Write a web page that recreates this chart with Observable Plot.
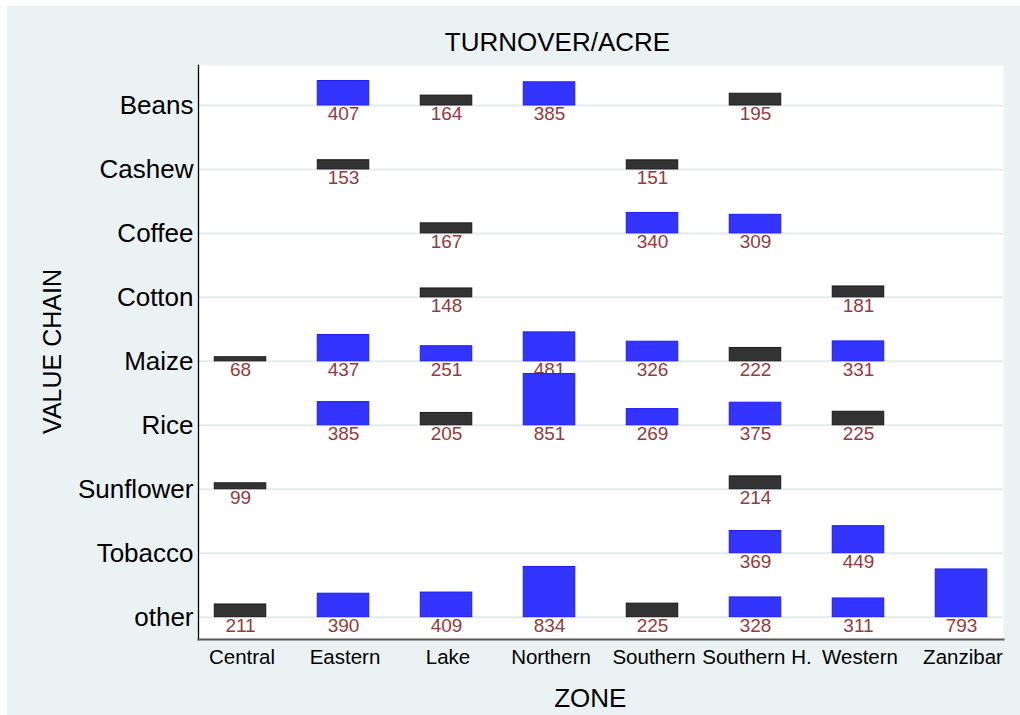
<!DOCTYPE html>
<html>
<head>
<meta charset="utf-8">
<script src="https://cdn.jsdelivr.net/npm/d3@7"></script>
<script src="https://cdn.jsdelivr.net/npm/@observablehq/plot@0.6"></script>
<style>
  html, body { margin: 0; padding: 0; background: #ffffff; }
  #wrap { position: absolute; left: 7px; top: 6px; width: 1013px; height: 709px; background: #EAF2F3; overflow: hidden; }
  #title { box-sizing: border-box; width: 1013px; height: 55px; padding-top: 23px; padding-left: 88px; text-align: center;
           font-family: "Liberation Sans", Arial, Helvetica, sans-serif; font-size: 26px; line-height: 26px; color: #000; }
  #chart svg { display: block; }
</style>
</head>
<body>
<div id="wrap">
  <div id="title">TURNOVER/ACRE</div>
  <div id="chart"></div>
</div>
<script>
// Categories
const chains = ["Beans", "Cashew", "Coffee", "Cotton", "Maize", "Rice", "Sunflower", "Tobacco", "other"];
const zones = ["Central", "Eastern", "Lake", "Northern", "Southern", "Southern H.", "Western", "Zanzibar"];

// Turnover per acre, one array per value chain, in zone order (null = no bar)
const beans     = [null, 407, 164, 385, null, 195, null, null];
const cashew    = [null, 153, null, null, 151, null, null, null];
const coffee    = [null, null, 167, null, 340, 309, null, null];
const cotton    = [null, null, 148, null, null, null, 181, null];
const maize     = [68, 437, 251, 481, 326, 222, 331, null];
const rice      = [null, 385, 205, 851, 269, 375, 225, null];
const sunflower = [99, null, null, null, null, 214, null, null];
const tobacco   = [null, null, null, null, null, 369, 449, null];
const other     = [211, 390, 409, 834, 225, 328, 311, 793];

const series = [beans, cashew, coffee, cotton, maize, rice, sunflower, tobacco, other];

// Titles
const titleX = "ZONE";
const titleY = "VALUE CHAIN";

// style constants
const rowScale = 1063;      // value units per row spacing
const threshold = 250;      // bars above it are blue
const blue = "#3434FF", blueStroke = "#1C1CFF";
const dark = "#333333", darkStroke = "#1a1a1a";
const labelColor = "#953A3E";
const FONT = '"Liberation Sans", Arial, Helvetica, sans-serif';

const nRows = chains.length;
const table = [];
series.forEach((vals, i) => {
  vals.forEach((v, j) => {
    if (v != null) table.push({chain: chains[i], zone: zones[j], value: v, row: nRows - 1 - i});
  });
});
const rows = d3.range(nRows);

const chart = Plot.plot({
  width: 1013,
  height: 654,
  marginTop: 4,
  marginBottom: 76,
  marginLeft: 191,
  marginRight: 17,
  style: {background: "transparent", fontFamily: FONT, color: "#000"},
  x: {domain: zones, paddingInner: 0.5, paddingOuter: 0.158, round: false, label: null},
  y: {domain: [-0.349, 8.625], label: null},
  marks: [
    Plot.frame({fill: "white", stroke: null}),
    Plot.ruleY(rows, {stroke: "#E3ECEF", strokeWidth: 2}),
    Plot.text(table, {x: "zone", y: "row", text: d => String(d.value), fill: labelColor,
      fontSize: 19, lineAnchor: "top", dy: 1}),
    Plot.barY(table, {x: "zone", y1: "row", y2: d => d.row + d.value / rowScale,
      fill: d => d.value > threshold ? blue : dark,
      stroke: d => d.value > threshold ? blueStroke : darkStroke, strokeWidth: 1}),
    Plot.frame({anchor: "left", stroke: "#000", strokeWidth: 1.3}),
    Plot.frame({anchor: "bottom", stroke: "#5a5a5a", strokeWidth: 2}),
    Plot.axisY({ticks: rows, tickFormat: r => chains[nRows - 1 - r], tickSize: 0, tickPadding: 5,
      fontSize: 26, label: null, color: "#000"}),
    Plot.axisX({tickSize: 0, tickPadding: 10, fontSize: 20.5, label: null, color: "#000", dx: 1.5}),
    Plot.text([titleX], {frameAnchor: "bottom", text: d => d, lineAnchor: "bottom",
      dy: 67.7, dx: -10.7, fontSize: 26, fill: "#000"}),
    Plot.text([titleY], {frameAnchor: "left", text: d => d, lineAnchor: "bottom", textAnchor: "middle", rotate: -90,
      dx: -137.7, dy: -1, fontSize: 25, fill: "#000"})
  ]
});
document.getElementById("chart").appendChild(chart);
</script>
</body>
</html>
